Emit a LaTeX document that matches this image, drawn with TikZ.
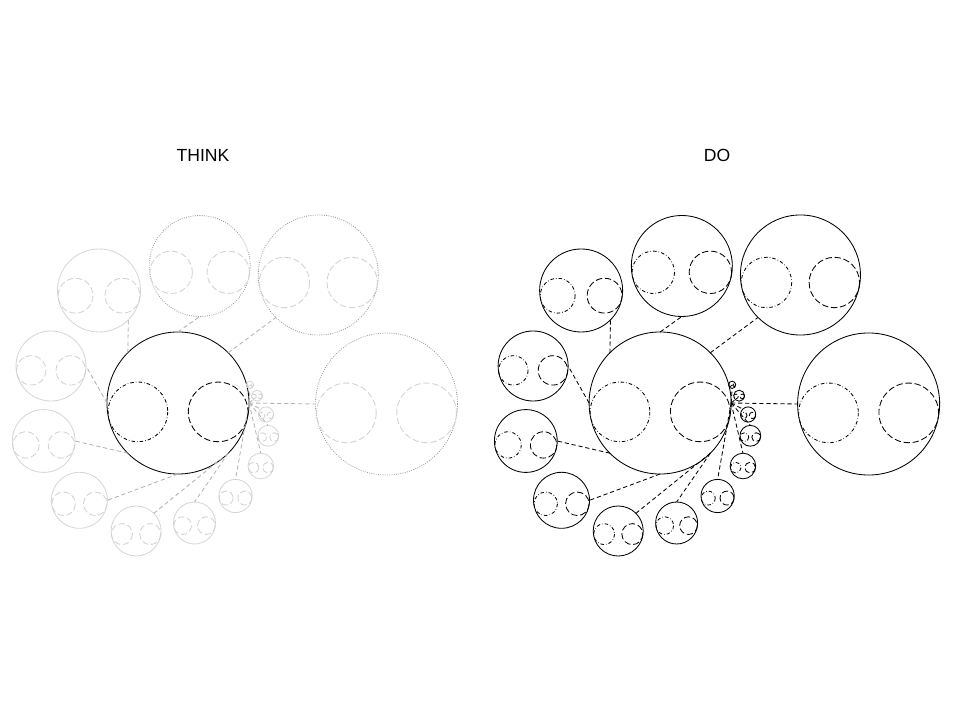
\documentclass[tikz,border=0pt]{standalone}
\usepackage{fontspec}
\setsansfont{Liberation Sans}
\begin{document}
\begin{tikzpicture}[x=0.025cm, y=-0.025cm, line width=0.6pt,
    ball/.style={circle, draw, inner sep=0pt, outer sep=0pt, minimum size={#1*0.05cm}},
    lefty/.style={dash pattern=on 2.5pt off 1.5pt on 0.4pt off 1.5pt},
    righty/.style={dash pattern=on 4.5pt off 2pt},
    link/.style={dash pattern=on 3pt off 2pt},
    ghost/.style={draw=black!16},
    ghostdot/.style={draw=black!40, densely dotted},
    faint/.style={draw=black!18},
    title/.style={font=\sffamily\fontsize{12.5}{15}\selectfont}]
  \useasboundingbox (0,0) rectangle (960,720);
  \def\cluster#1#2#3#4#5#6#7{%
    \node[ball=#4, #5] (#1) at (#2,#3) {};
    \draw[#6] ({#2-0.565*#4},{#3+0.125*#4}) circle [radius={0.42*#4}];
    \draw[#7] ({#2+0.565*#4},{#3+0.125*#4}) circle [radius={0.42*#4}];}
  % name / x / y / radius / anchor on centre / anchor on satellite / look
  \def\sats{s1/386.5/404/71/east/west/ghostdot,
    s2/318.3/275/60/north east/south west/ghostdot,
    s3/199.7/266/50.5/north/south/ghostdot,
    s4/99/290.5/41.5/north west/south east/ghost,
    s5/51/366/35/west/east/ghost,
    s6/43.7/441/31.4/south west/east/ghost,
    s7/79.4/500.3/28/south/east/ghost,
    s8/136.1/531/25/south east/north east/ghost,
    s9/194.5/523/21/south east/north/ghost,
    s10/235.5/496/16.6/east/north/ghost,
    s11/260.8/466/12.8/east/north/ghost,
    s12/268.2/435.8/10.4/east/north/ghost,
    s13/266/414.5/7.6/east/north west/ghost,
    s14/257/395.7/5.5/east/south west/ghost,
    s15/250/384.8/3.6/east/south/ghost}

  % think
  \node[title] (think) at (203,155) {THINK};
  \cluster{t-c}{178}{403}{71}{draw=black}{lefty}{righty}
  \foreach \nm/\px/\py/\rad/\src/\dst/\look in \sats {
    \cluster{t-\nm}{\px}{\py}{\rad}{\look}{faint, righty}{faint, righty}
    \draw[link, black!30] (t-c.\src) -- (t-\nm.\dst);
  }

  % do
  \begin{scope}[xshift=12.05cm]
    \node[title] (do) at (235,155) {DO};
    \cluster{d-c}{178}{403}{71}{draw=black}{lefty}{righty}
    \foreach \nm/\px/\py/\rad/\src/\dst/\look in \sats {
      \cluster{d-\nm}{\px}{\py}{\rad}{draw=black}{lefty}{righty}
      \draw[link] (d-c.\src) -- (d-\nm.\dst);
    }
  \end{scope}
\end{tikzpicture}
\end{document}
